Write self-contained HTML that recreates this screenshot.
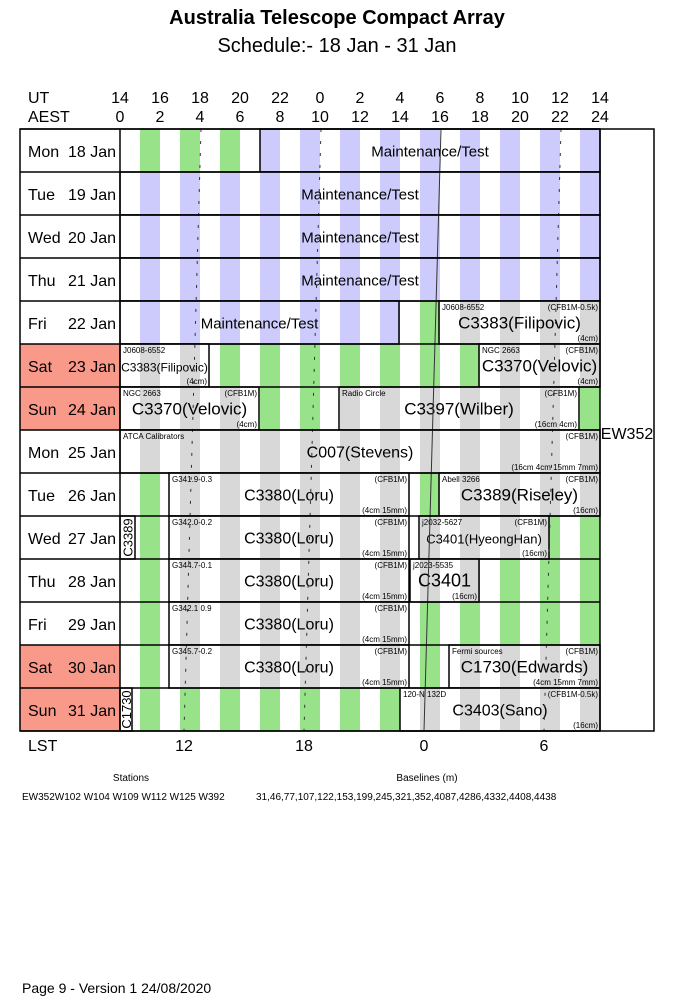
<!DOCTYPE html>
<html><head><meta charset="utf-8"><style>
body{margin:0;background:#fff;}
svg{display:block;font-family:"Liberation Sans",sans-serif;}
</style></head><body>
<svg id="c" width="674" height="1008" xmlns="http://www.w3.org/2000/svg"></svg>
<script>
const days=["Mon  18 Jan","Tue  19 Jan","Wed  20 Jan","Thu  21 Jan","Fri  22 Jan","Sat  23 Jan","Sun  24 Jan","Mon  25 Jan","Tue  26 Jan","Wed  27 Jan","Thu  28 Jan","Fri  29 Jan","Sat  30 Jan","Sun  31 Jan"];
const weekend=[0,0,0,0,0,1,1,0,0,0,0,0,1,1];
const utTicks=[14,16,18,20,22,0,2,4,6,8,10,12,14];
const aestTicks=[0,2,4,6,8,10,12,14,16,18,20,22,24];
const lstLabels=["12","18","0","6"];
const lstHourTop=[4.05,10.05,16.05,22.05];
const lstHourBottom=[3.2,9.2,15.2,21.2];
const lstSolid=[0,0,1,0];
const blockRow=[0,1,2,3,4,4,5,5,6,6,7,8,8,9,9,9,10,10,11,12,12,13,13];
const blockStart=[7,0,0,0,0,15.95,0,17.95,0,10.95,0,2.45,15.95,0,2.45,14.95,2.45,14.5,2.45,2.45,16.45,0,14];
const blockEnd=[24,24,24,24,13.95,24,4.45,24,6.95,22.95,24,14.45,24,0.75,14.45,21.45,14.45,17.95,14.45,14.45,24,0.6,24];
const blockKind=["m","m","m","m","m","p","p","p","p","p","p","p","p","v","p","p","p","p","p","p","p","v","p"];
const blockName=["Maintenance/Test","Maintenance/Test","Maintenance/Test","Maintenance/Test","Maintenance/Test","C3383(Filipovic)","C3383(Filipovic)","C3370(Velovic)","C3370(Velovic)","C3397(Wilber)","C007(Stevens)","C3380(Loru)","C3389(Riseley)","C3389","C3380(Loru)","C3401(HyeongHan)","C3380(Loru)","C3401","C3380(Loru)","C3380(Loru)","C1730(Edwards)","C1730","C3403(Sano)"];
const blockSrc=["","","","","","J0608-6552","J0608-6552","NGC 2663","NGC 2663","Radio Circle","ATCA Calibrators","G341.9-0.3","Abell 3266","","G342.0-0.2","j2032-5627","G344.7-0.1","j2023-5535","G342.1 0.9","G345.7-0.2","Fermi sources","","120-N 132D"];
const blockCfg=["","","","","","(CFB1M-0.5k)","","(CFB1M)","(CFB1M)","(CFB1M)","(CFB1M)","(CFB1M)","(CFB1M)","","(CFB1M)","(CFB1M)","(CFB1M)","","(CFB1M)","(CFB1M)","(CFB1M)","","(CFB1M-0.5k)"];
const blockBand=["","","","","","(4cm)","(4cm)","(4cm)","(4cm)","(16cm 4cm)","(16cm 4cm 15mm 7mm)","(4cm 15mm)","(16cm)","","(4cm 15mm)","(16cm)","(4cm 15mm)","(16cm)","(4cm 15mm)","(4cm 15mm)","(4cm 15mm 7mm)","","(16cm)"];
const blockSize=[15,15,15,15,15,17,12,17,17,17,16,16,17,13,16,13,16,18,16,16,17,13,16];

const S=document.getElementById('c');const NS="http://www.w3.org/2000/svg";
const X0=120,HW=20,Y0=129,RH=43,NR=14;
const xs=h=>X0+h*HW, ys=r=>Y0+r*RH;
function mk(t,a,p){const e=document.createElementNS(NS,t);for(const k in a)e.setAttribute(k,a[k]);(p||S).appendChild(e);return e;}
function tx(x,y,s,size,anchor,weight){const e=mk('text',{x:x,y:y,'font-size':size,'text-anchor':anchor||'start','font-weight':weight||'normal',fill:'#000'});e.textContent=s;return e;}
const GREEN="#98e38a",BLUE="#cccbfc",GREY="#d8d8d8";
let t;
t=tx(337,24,"Australia Telescope Compact Array",20,'middle','bold');

t=tx(337,52,"Schedule:- 18 Jan - 31 Jan",20,'middle');

t=tx(28,103,"UT",16);
t=tx(28,122,"AEST",16);
utTicks.forEach((v,i)=>{const e=tx(xs(i*2),103,String(v),16,'middle');});
aestTicks.forEach((v,i)=>{const e=tx(xs(v),122,String(v),16,'middle');});
days.forEach((d,r)=>{
  const g=mk('g',{});
  mk('rect',{x:20,y:ys(r),width:100,height:RH,fill:weekend[r]?'#f8998a':'#fff'},g);
  const p=d.split('  ');
  const a=mk('text',{x:28,y:ys(r)+28,'font-size':16},g);a.textContent=p[0];
  const b=mk('text',{x:116,y:ys(r)+28,'font-size':16,'text-anchor':'end'},g);b.textContent=p[1];
});
for(let r=0;r<NR;r++)for(let k=0;k<12;k++){
  const e=mk('rect',{x:xs(1+2*k),y:ys(r),width:HW,height:RH,fill:GREEN});
  
}
blockRow.forEach((r,i)=>{
  const x1=xs(blockStart[i]),x2=xs(blockEnd[i]),y=ys(r);
  const g=mk('g',{});
  mk('rect',{x:x1,y:y,width:x2-x1,height:RH,fill:'#fff'},g);
  const col=blockKind[i]=='m'?BLUE:GREY;
  if(blockKind[i]!='v')for(let k=0;k<12;k++){
    const a=Math.max(x1,xs(1+2*k)),b=Math.min(x2,xs(2+2*k));
    if(b>a)mk('rect',{x:a,y:y,width:b-a,height:RH,fill:col},g);
  }
  mk('rect',{x:x1,y:y,width:x2-x1,height:RH,fill:'none',stroke:'#000','stroke-width':1.5},g);
  if(blockKind[i]=='v'){
    const e=mk('text',{x:0,y:0,'font-size':blockSize[i],'text-anchor':'middle',transform:`translate(${(x1+x2)/2+5},${y+RH/2}) rotate(-90)`},g);e.textContent=blockName[i];
  }else{
    const n=mk('text',{x:(x1+x2)/2,y:y+RH/2+6,'font-size':blockSize[i],'text-anchor':'middle'},g);n.textContent=blockName[i];
    if(blockSrc[i]){const e=mk('text',{x:x1+3,y:y+9,'font-size':8},g);e.textContent=blockSrc[i];}
    if(blockCfg[i]){const e=mk('text',{x:x2-2,y:y+9,'font-size':8,'text-anchor':'end'},g);e.textContent=blockCfg[i];}
    if(blockBand[i]){const e=mk('text',{x:x2-2,y:y+RH-3,'font-size':8,'text-anchor':'end'},g);e.textContent=blockBand[i];}
  }
});
lstLabels.forEach((l,i)=>{
  const e=mk('line',{x1:xs(lstHourTop[i]),y1:Y0,x2:xs(lstHourBottom[i]),y2:Y0+NR*RH,stroke:'#333','stroke-width':1,'stroke-dasharray':lstSolid[i]?'none':'3,9'});
  
  const t2=tx(xs(lstHourBottom[i]),751,l,16,'middle');
});
for(let r=0;r<=NR;r++)mk('line',{x1:20,y1:ys(r),x2:600,y2:ys(r),stroke:'#000','stroke-width':1.5});
let fr=mk('rect',{x:20,y:Y0,width:634,height:NR*RH,fill:'none',stroke:'#000','stroke-width':1.5});

mk('line',{x1:120,y1:Y0,x2:120,y2:Y0+NR*RH,stroke:'#000','stroke-width':1.5});
mk('line',{x1:600,y1:Y0,x2:600,y2:Y0+NR*RH,stroke:'#000','stroke-width':1.5});
t=tx(627,439,"EW352",16,'middle');
t=tx(28,751,"LST",16);
t=tx(131,781,"Stations",10,'middle');
t=tx(427,781,"Baselines (m)",10,'middle');
t=tx(22,800,"EW352W102 W104 W109 W112 W125 W392",10);
t=tx(256,800,"31,46,77,107,122,153,199,245,321,352,4087,4286,4332,4408,4438",10);
t=tx(22,993,"Page 9 - Version 1  24/08/2020",14);
</script>
</body></html>
